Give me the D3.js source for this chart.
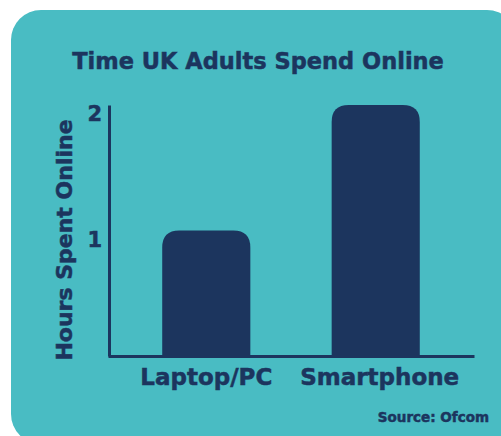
<!DOCTYPE html>
<html>

<head>
  <meta charset="utf-8">
  <title>Time UK Adults Spend Online</title>
  <style>
    body { margin: 0; background: #fff; }
    text { font-family: "DejaVu Sans", sans-serif; font-weight: 700; fill: #1c355e; stroke: #1c355e; stroke-width: 0.5px; }
  </style>
</head>

<body>
  <script src="https://cdn.jsdelivr.net/npm/d3@7"></script>
  <script type="text/javascript">
    var categories = ["Laptop/PC", "Smartphone"];
    var hours = [1, 2];
    var tickValues = [1, 2];

    var width = 501;
    var height = 436;
    var teal = "#49bcc3";
    var navy = "#1c355e";
    var font = "'DejaVu Sans', sans-serif";

    var svg = d3.select("body")
      .append("svg")
      .attr("width", width)
      .attr("height", height);

    // card background, runs off the right and bottom edges
    svg.append("rect")
      .attr("x", 11)
      .attr("y", 10)
      .attr("width", 506)
      .attr("height", 434)
      .attr("rx", 30)
      .attr("fill", teal);

    var x = d3.scaleBand()
      .domain(categories)
      .range([108, 474])
      .paddingInner(0.48)
      .paddingOuter(0.32);

    var y = d3.scaleLinear()
      .domain([0, 2])
      .range([356, 105]);

    // bars with rounded tops only
    var r = 17;
    svg.selectAll("path.bar")
      .data(hours)
      .enter().append("path")
      .attr("class", "bar")
      .attr("fill", navy)
      .attr("d", function(d, i) {
        var x0 = x(categories[i]);
        var x1 = x0 + x.bandwidth();
        var top = y(d);
        var bottom = y(0);
        return "M" + x0 + "," + bottom +
          "V" + (top + r) +
          "Q" + x0 + "," + top + " " + (x0 + r) + "," + top +
          "H" + (x1 - r) +
          "Q" + x1 + "," + top + " " + x1 + "," + (top + r) +
          "V" + bottom + "Z";
      });

    var yAxis = svg.append("g")
      .attr("transform", "translate(109,0)")
      .call(d3.axisLeft(y).tickValues(tickValues).tickFormat(d3.format("d")).tickSize(0).tickPadding(7));
    yAxis.select(".domain").attr("stroke", navy).attr("stroke-width", 3);
    yAxis.selectAll("text")
      .attr("dy", "0.76em")
      .style("font-size", "21px")
      .style("font-family", font)
      .attr("fill", navy);

    var xAxis = svg.append("g")
      .attr("transform", "translate(0,356)")
      .call(d3.axisBottom(x).tickSize(0).tickPadding(8));
    xAxis.select(".domain").attr("stroke", navy).attr("stroke-width", 3);
    xAxis.selectAll("text")
      .attr("dy", "0.92em")
      .attr("dx", function(d, i) { return i * 4; })
      .style("font-size", "23px")
      .style("font-family", font)
      .attr("fill", navy);

    svg.append("text")
      .attr("x", 258)
      .attr("y", 69)
      .attr("text-anchor", "middle")
      .style("font-size", "22.5px")
      .text("Time UK Adults Spend Online");

    svg.append("text")
      .attr("transform", "translate(72,240) rotate(-90)")
      .attr("text-anchor", "middle")
      .style("font-size", "22px")
      .text("Hours Spent Online");

    svg.append("text")
      .attr("x", 489)
      .attr("y", 422)
      .attr("text-anchor", "end")
      .style("font-size", "13.5px")
      .text("Source: Ofcom");
  </script>
</body>

</html>
